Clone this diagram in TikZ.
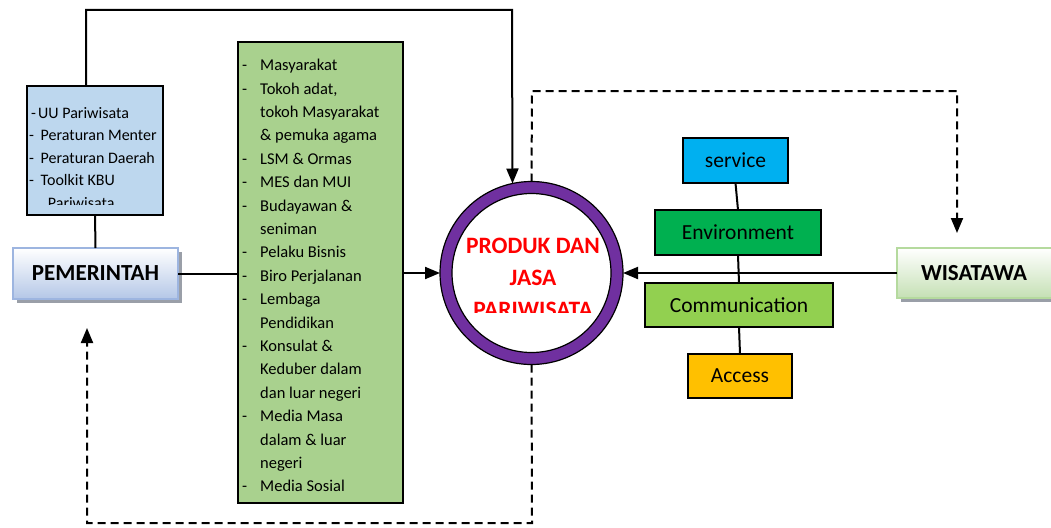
\documentclass[tikz,border=0pt]{standalone}
\usepackage{fontspec}
\setmainfont{Carlito}
\usetikzlibrary{arrows.meta}
\definecolor{bluebox}{HTML}{BDD7EE}
\definecolor{greenbox}{HTML}{A9D18E}
\definecolor{ringpurple}{HTML}{7030A0}
\definecolor{svc}{HTML}{00B0F0}
\definecolor{envc}{HTML}{00B050}
\definecolor{commc}{HTML}{92D050}
\definecolor{accc}{HTML}{FFC000}
\definecolor{pemborder}{HTML}{9DB5E0}
\definecolor{pembottom}{HTML}{B4C7E7}
\definecolor{wisborder}{HTML}{B5DA9E}
\definecolor{wisbottom}{HTML}{C5E0B4}
\definecolor{shadowc}{HTML}{9A9FA8}
\begin{document}
\begin{tikzpicture}[x=1pt,y=-1pt,
  conn/.style={line width=2pt},
  arr/.style={conn,-{Triangle[length=15pt,width=12pt]}},
  dsh/.style={line width=2pt,dash pattern=on 8pt off 5pt},
  dsharr/.style={dsh,-{Triangle[length=15pt,width=12pt]}},
  cbox/.style={draw=black,line width=1.8pt,anchor=north west,inner sep=0pt,outer sep=0pt,font=\fontsize{21.5}{24}\selectfont},
  gtxt/.style={anchor=base west,inner sep=0pt,font=\fontsize{16.5}{20}\selectfont},
  btxt/.style={anchor=base west,inner sep=0pt,font=\fontsize{16}{20}\selectfont},
  bigbox/.style={anchor=north west,inner sep=0pt,outer sep=0pt,line width=2.2pt,font=\fontsize{23}{26}\selectfont\bfseries},
  redtxt/.style={anchor=base,inner sep=0pt,text=red,font=\fontsize{23.5}{26}\selectfont\bfseries}
]
\fill[white] (0,0) rectangle (1051,527);
\useasboundingbox (0,0) rectangle (1051,527);

% blue box
\node[draw=black,line width=2pt,fill=bluebox,anchor=north west,minimum width=136pt,minimum height=129pt,inner sep=0pt,outer sep=0pt] (blue) at (27,86) {};
\begin{scope}
\clip (28,87) rectangle (162,204);
\node[btxt] (bd1) at (31,118) {-};
\node[btxt] (b1) at (38,118) {UU Pariwisata};
\node[btxt] (bd2) at (29,140.5) {-};
\node[btxt] (b2) at (40.5,140.5) {Peraturan Menter};
\node[btxt] (bd3) at (29,163) {-};
\node[btxt] (b3) at (40.5,163) {Peraturan Daerah};
\node[btxt] (bd4) at (29,185.5) {-};
\node[btxt] (b4) at (40.5,185.5) {Toolkit KBU};
\node[btxt] (b5) at (47.7,208) {Pariwisata};
\end{scope}

% PEMERINTAH
\fill[shadowc] (17,252) rectangle (182,303);
\node[bigbox,draw=pemborder,top color=white,bottom color=pembottom,minimum width=165pt,minimum height=51pt] (pem) at (13,248) {PEMERINTAH};

% WISATAWA
\fill[shadowc] (901,252) rectangle (1060,302);
\node[bigbox,draw=wisborder,top color=white,bottom color=wisbottom,minimum width=160pt,minimum height=50pt,text width=154pt,align=left] (wis) at (897,248) {\hspace*{21pt}WISATAWA};

% green box
\node[draw=black,line width=2pt,fill=greenbox,anchor=north west,minimum width=165pt,minimum height=461pt,inner sep=0pt,outer sep=0pt] (green) at (238,42) {};
\foreach \d/\t [count=\i] in {1/Masyarakat,1/{Tokoh adat,},0/tokoh Masyarakat,0/{\& pemuka agama},1/{LSM \& Ormas},1/MES dan MUI,1/{Budayawan \&},0/seniman,1/Pelaku Bisnis,1/Biro Perjalanan,1/Lembaga,0/Pendidikan,1/{Konsulat \&},0/Keduber dalam,0/dan luar negeri,1/Media Masa,0/{dalam \& luar},0/negeri,1/Media Sosial}{
  \node[gtxt] (g\i) at (260,{70.7+23.4*(\i-1)}) {\t};
  \ifnum\d=1 \node[gtxt] (gd\i) at (242,{70.7+23.4*(\i-1)}) {-};\fi
}

% circle
\node[circle,minimum size=183pt,inner sep=0pt,outer sep=0pt] (prod) at (531.5,273) {};
\draw[ringpurple,line width=12pt] (prod.center) circle (85.5);
\draw[black,line width=1.2pt] (prod.center) circle (91.5);
\draw[black,line width=1.2pt] (prod.center) circle (79.5);
\node[redtxt] (p1) at (533,253) {PRODUK DAN};
\node[redtxt] (p2) at (533,285) {JASA};
\begin{scope}
\clip (440,290) rectangle (620,312);
\node[redtxt] (p3) at (533,317) {PARIWISATA};
\end{scope}

% colored boxes
\node[cbox,fill=svc,minimum width=105pt,minimum height=45pt] (svcb) at (683,138) {service};
\node[cbox,fill=envc,minimum width=166pt,minimum height=45pt] (envb) at (655,210) {Environment};
\node[cbox,fill=commc,minimum width=188pt,minimum height=44pt] (commb) at (645,283) {Communication};
\node[cbox,fill=accc,minimum width=104pt,minimum height=44pt] (accb) at (688,354) {Access};
\draw[conn] (svcb.south) -- (envb.north);
\draw[conn] (envb.south) -- (commb.north);
\draw[conn] (commb.south) -- (accb.north);

% connectors
\coordinate (t1) at (86,10);
\coordinate (t2) at (512,10);
\draw[arr] (blue.north -| t1) -- (t1) -- (t2) -- (prod.102.3);
\draw[conn] (blue.south) -- (pem.north);
\draw[conn] (pem.east) -- (green.west |- pem.east);
\draw[arr] (green.east |- prod.west) -- (prod.west);
\draw[arr] (wis.west) -- (prod.east);

\coordinate (d1) at (532,91);
\coordinate (d2) at (957,91);
\draw[dsharr,shorten >=15pt] (prod.north) -- (d1) -- (d2) -- (d2 |- wis.north);

\coordinate (e1) at (532,523);
\coordinate (e2) at (87,523);
\draw[dsharr,shorten >=29pt] (prod.south) -- (e1) -- (e2) -- (e2 |- pem.south);
\end{tikzpicture}
\end{document}
